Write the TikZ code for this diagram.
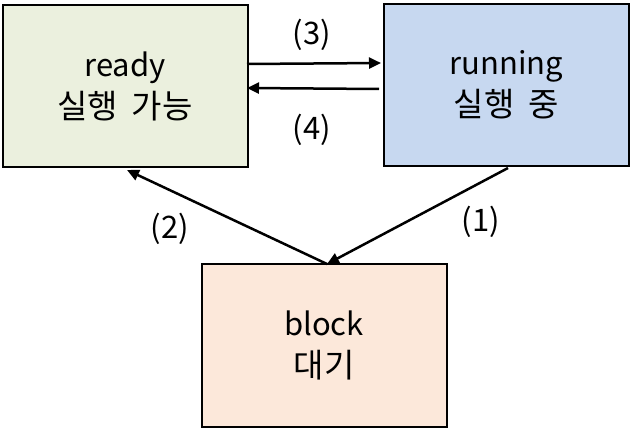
\documentclass[tikz,border=0pt]{standalone}
\usepackage{fontspec}
\setmainfont{Noto Sans CJK KR}
\usetikzlibrary{arrows.meta}
\definecolor{readyc}{RGB}{235,240,222}
\definecolor{runc}{RGB}{199,216,240}
\definecolor{blockc}{RGB}{252,232,218}
\newcommand{\ko}[1]{{\fontsize{33}{42}\selectfont #1}}
\newcommand{\ksp}{\hspace{14pt}}
\begin{document}
\begin{tikzpicture}[x=1pt,y=-1pt,
  state/.style={draw=black,line width=2pt,minimum width=245pt,minimum height=162pt,inner sep=0pt,
    align=center,font=\fontsize{31}{42}\selectfont},
  conn/.style={line width=2.5pt,-{Triangle[length=12pt,width=11pt]}},
  lbl/.style={font=\fontsize{31}{36}\selectfont,inner sep=0pt}]
\useasboundingbox (0,0) rectangle (632,430);
\node[state,fill=readyc] (ready) at (125,86.5) {ready\\\ko{실행\ksp 가능}};
\node[state,fill=runc] (run) at (506.5,85) {running\\\ko{실행\ksp 중}};
\node[state,fill=blockc] (block) at (324,345.5) {block\\\ko{대기}};
\coordinate (a3s) at (247,64); \coordinate (a3e) at (381,63);
\coordinate (a4s) at (379,89); \coordinate (a4e) at (247,88);
\coordinate (a1s) at (508,168); \coordinate (a1e) at (327,264);
\coordinate (a2s) at (327,264); \coordinate (a2e) at (127,170);
\draw[conn] (a3s) -- (a3e);
\draw[conn] (a4s) -- (a4e);
\draw[conn] (a1s) -- (a1e);
\draw[conn] (a2s) -- (a2e);
\node[lbl] (l3) at (312,35) {(3)};
\node[lbl] (l4) at (312,130) {(4)};
\node[lbl] (l2) at (170,229) {(2)};
\node[lbl] (l1) at (481,222) {(1)};
\end{tikzpicture}
\end{document}
